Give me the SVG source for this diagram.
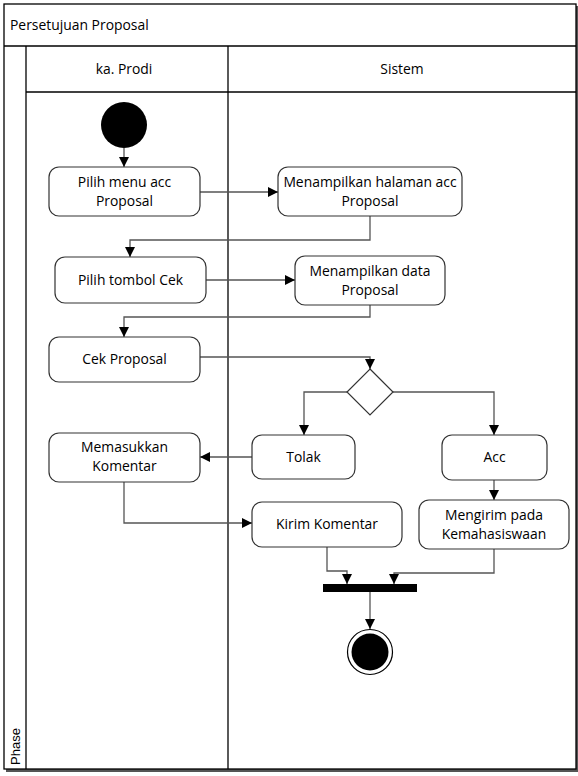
<svg xmlns="http://www.w3.org/2000/svg" width="578" height="776" viewBox="0 0 578 776">
  <style>
    .frame { fill: none; stroke: #000; stroke-width: 1.3; }
    .act { fill: #fff; stroke: #333; stroke-width: 1.2; }
    .lbl { font-family: "Open Sans", "Noto Sans", sans-serif; font-size: 13.9px; fill: #000; text-anchor: middle; }
    .edge { fill: none; stroke: #555; stroke-width: 1.3; }
  </style>
  <defs>
    <marker id="arr" viewBox="0 0 10 10" refX="10" refY="5" markerWidth="10" markerHeight="10" markerUnits="userSpaceOnUse" orient="auto">
      <path d="M0,0 L10,5 L0,10 Z" fill="#000"/>
    </marker>
  </defs>
  <rect width="578" height="776" fill="#fff"/>

  <!-- pool and lanes -->
  <g id="pool">
    <rect x="6" y="6" width="572" height="766" fill="#555"/>
    <rect x="4" y="4" width="572" height="765" style="fill:#fff;stroke:#000;stroke-width:1.3"/>
    <line x1="4" y1="46" x2="576" y2="46" class="frame"/>
    <line x1="26" y1="46" x2="26" y2="769" class="frame"/>
    <line x1="228" y1="46" x2="228" y2="769" class="frame"/>
    <line x1="26" y1="92" x2="576" y2="92" class="frame"/>
    <text x="10" y="30" font-family="Open Sans, Noto Sans, sans-serif" font-size="13.9" fill="#000">Persetujuan Proposal</text>
    <text x="124" y="74" class="lbl">ka. Prodi</text>
    <text x="402" y="74" class="lbl">Sistem</text>
    <text transform="translate(20,765) rotate(-90)" font-family="Liberation Sans, Arial, sans-serif" font-size="13" fill="#000">Phase</text>
  </g>

  <!-- connectors -->
  <g id="connectors">
    <path d="M124,148 V167" class="edge" marker-end="url(#arr)"/>
    <path d="M200,192 H278" class="edge" marker-end="url(#arr)"/>
    <path d="M370,216 V240 H130 V257" class="edge" marker-end="url(#arr)"/>
    <path d="M206,280 H295" class="edge" marker-end="url(#arr)"/>
    <path d="M370,305 V317 H124 V337" class="edge" marker-end="url(#arr)"/>
    <path d="M200,357 H370 V369" class="edge" marker-end="url(#arr)"/>
    <path d="M347,392 H304 V435" class="edge" marker-end="url(#arr)"/>
    <path d="M393,392 H494 V435" class="edge" marker-end="url(#arr)"/>
    <path d="M252,457 H200" class="edge" marker-end="url(#arr)"/>
    <path d="M124,482 V523 H252" class="edge" marker-end="url(#arr)"/>
    <path d="M494,480 V500" class="edge" marker-end="url(#arr)"/>
    <path d="M327,547 V571 H347 V584" class="edge" marker-end="url(#arr)"/>
    <path d="M494,549 V573 H394 V584" class="edge" marker-end="url(#arr)"/>
    <path d="M370,592 V629" class="edge" marker-end="url(#arr)"/>
  </g>

  <g id="start"><circle cx="124" cy="125" r="23" fill="#000"/></g>

  <g id="pilih-menu">
    <rect x="49" y="167" width="151" height="49" rx="10" class="act"/>
    <text x="124.5" y="187" class="lbl">Pilih menu acc</text>
    <text x="124.5" y="206" class="lbl">Proposal</text>
  </g>
  <g id="tampil-halaman">
    <rect x="278" y="167" width="184" height="49" rx="10" class="act"/>
    <text x="370" y="187" class="lbl">Menampilkan halaman acc</text>
    <text x="370" y="206" class="lbl">Proposal</text>
  </g>
  <g id="pilih-tombol">
    <rect x="55" y="257" width="151" height="46" rx="10" class="act"/>
    <text x="130.5" y="285" class="lbl">Pilih tombol Cek</text>
  </g>
  <g id="tampil-data">
    <rect x="295" y="256" width="150" height="49" rx="10" class="act"/>
    <text x="370" y="276" class="lbl">Menampilkan data</text>
    <text x="370" y="295" class="lbl">Proposal</text>
  </g>
  <g id="cek-proposal">
    <rect x="49" y="337" width="151" height="45" rx="10" class="act"/>
    <text x="124.5" y="364" class="lbl">Cek Proposal</text>
  </g>
  <g id="keputusan">
    <path d="M370,369 L393,392 L370,415 L347,392 Z" class="act"/>
  </g>
  <g id="tolak">
    <rect x="252" y="435" width="103" height="44" rx="10" class="act"/>
    <text x="303.5" y="462" class="lbl">Tolak</text>
  </g>
  <g id="acc">
    <rect x="442" y="435" width="105" height="45" rx="10" class="act"/>
    <text x="494.5" y="462" class="lbl">Acc</text>
  </g>
  <g id="memasukkan">
    <rect x="49" y="433" width="151" height="49" rx="10" class="act"/>
    <text x="124.5" y="452" class="lbl">Memasukkan</text>
    <text x="124.5" y="471" class="lbl">Komentar</text>
  </g>
  <g id="kirim-komentar">
    <rect x="252" y="502" width="150" height="45" rx="10" class="act"/>
    <text x="327" y="529" class="lbl">Kirim Komentar</text>
  </g>
  <g id="mengirim">
    <rect x="419" y="500" width="150" height="49" rx="10" class="act"/>
    <text x="494" y="520" class="lbl">Mengirim pada</text>
    <text x="494" y="539" class="lbl">Kemahasiswaan</text>
  </g>
  <g id="join">
    <rect x="323" y="584" width="94" height="8" fill="#000"/>
  </g>
  <g id="end">
    <circle cx="370" cy="652" r="22.5" fill="#fff" stroke="#000" stroke-width="1.2"/>
    <circle cx="370" cy="652" r="18.5" fill="#000"/>
  </g>
</svg>
